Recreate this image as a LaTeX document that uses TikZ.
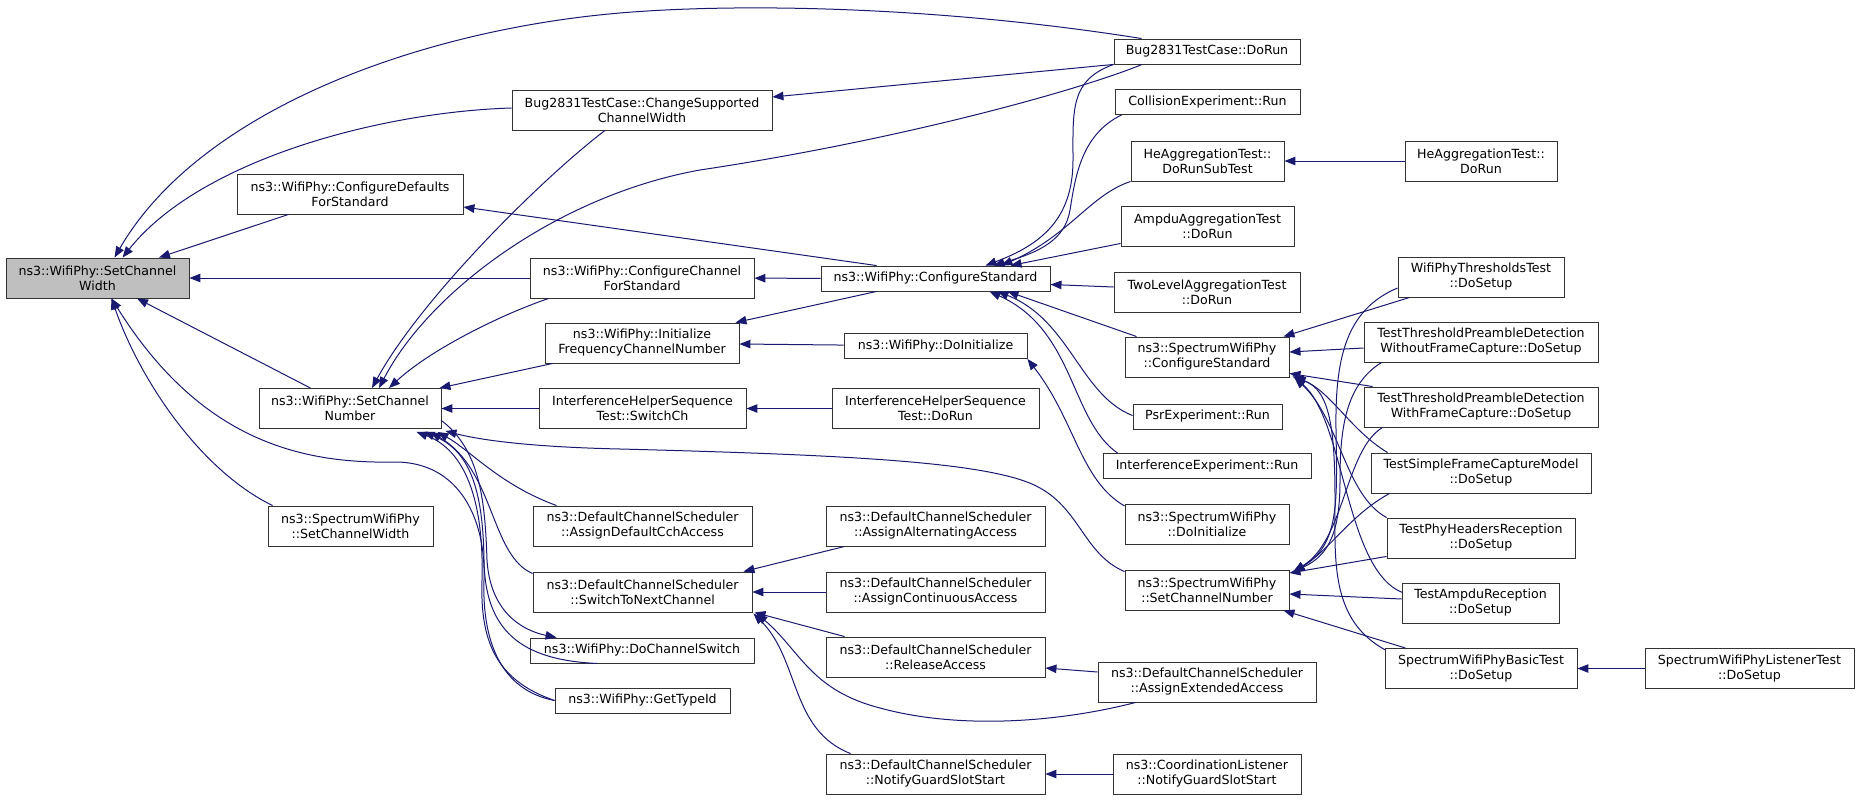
\documentclass[tikz,border=0pt]{standalone}
\usepackage{fontspec}
\setmainfont{DejaVu Sans}
\usetikzlibrary{arrows.meta, calc}
\definecolor{navyedge}{HTML}{191970}
\definecolor{nodegray}{HTML}{BFBFBF}

\begin{document}
\begin{tikzpicture}[
  x=1pt, y=-1pt,
  fn/.style = {draw=black!80, line width=0.9pt, fill=white, align=center, inner sep=0pt,
               minimum height=40pt, font=\fontsize{12.6}{15}\selectfont},
  fn1/.style = {fn, minimum height=25pt},
  call/.style = {draw=navyedge, line width=1pt, -{Triangle[length=11pt, width=8.5pt]}}
]
\useasboundingbox (0,0) rectangle (1867,800);

% Node for the called function
\node[fn, fill=nodegray, minimum width=183pt] (scw) at (97.5,278) {ns3::WifiPhy::SetChannel\\Width};

% Nodes for the direct callers
\node[fn, minimum width=226pt] (cdfs) at (350,194) {ns3::WifiPhy::ConfigureDefaults\\ForStandard};
\node[fn, minimum width=182pt] (scn) at (350,408.5) {ns3::WifiPhy::SetChannel\\Number};
\node[fn, minimum width=165pt] (sswidth) at (350.5,526) {ns3::SpectrumWifiPhy\\::SetChannelWidth};

% Nodes for the second column
\node[fn, minimum width=260pt] (chsup) at (642,110) {Bug2831TestCase::ChangeSupported\\ChannelWidth};
\node[fn, minimum width=224pt] (ccfs) at (642,278) {ns3::WifiPhy::ConfigureChannel\\ForStandard};
\node[fn, minimum width=194pt] (ifcn) at (642,343) {ns3::WifiPhy::Initialize\\FrequencyChannelNumber};
\node[fn, minimum width=207pt] (swch) at (642.5,408.5) {InterferenceHelperSequence\\Test::SwitchCh};
\node[fn, minimum width=219pt] (adcca) at (642.5,526) {ns3::DefaultChannelScheduler\\::AssignDefaultCchAccess};
\node[fn, minimum width=219pt] (stnc) at (642.5,592) {ns3::DefaultChannelScheduler\\::SwitchToNextChannel};
\node[fn1, minimum width=224pt] (dcs) at (642,650.5) {ns3::WifiPhy::DoChannelSwitch};
\node[fn1, minimum width=175pt] (gti) at (642.5,700.5) {ns3::WifiPhy::GetTypeId};

% Nodes for the third column
\node[fn1, minimum width=229pt] (cs) at (935.5,278.5) {ns3::WifiPhy::ConfigureStandard};
\node[fn1, minimum width=183pt] (doinit) at (935.5,346) {ns3::WifiPhy::DoInitialize};
\node[fn, minimum width=207pt] (ihdorun) at (935.5,408.5) {InterferenceHelperSequence\\Test::DoRun};
\node[fn, minimum width=219pt] (aaa) at (935.5,526) {ns3::DefaultChannelScheduler\\::AssignAlternatingAccess};
\node[fn, minimum width=219pt] (aca) at (935.5,592) {ns3::DefaultChannelScheduler\\::AssignContinuousAccess};
\node[fn, minimum width=219pt] (ra) at (935.5,657) {ns3::DefaultChannelScheduler\\::ReleaseAccess};
\node[fn, minimum width=219pt] (ngss) at (935.5,774) {ns3::DefaultChannelScheduler\\::NotifyGuardSlotStart};

% Nodes for the fourth column
\node[fn1, minimum width=186pt] (dorun) at (1207,51.5) {Bug2831TestCase::DoRun};
\node[fn1, minimum width=185pt] (coll) at (1207.5,102) {CollisionExperiment::Run};
\node[fn, minimum width=153pt] (hesub) at (1207.5,161) {HeAggregationTest::\\DoRunSubTest};
\node[fn, minimum width=173pt] (ampagg) at (1207.5,226) {AmpduAggregationTest\\::DoRun};
\node[fn, minimum width=186pt] (twolev) at (1207,292) {TwoLevelAggregationTest\\::DoRun};
\node[fn, minimum width=164pt] (scs) at (1207,357) {ns3::SpectrumWifiPhy\\::ConfigureStandard};
\node[fn1, minimum width=149pt] (psr) at (1207.5,416.5) {PsrExperiment::Run};
\node[fn1, minimum width=208pt] (ie) at (1207,466) {InterferenceExperiment::Run};
\node[fn, minimum width=164pt] (ssdoinit) at (1207,524.5) {ns3::SpectrumWifiPhy\\::DoInitialize};
\node[fn, minimum width=164pt] (sscn) at (1207,590) {ns3::SpectrumWifiPhy\\::SetChannelNumber};
\node[fn, minimum width=218pt] (aea) at (1207,682) {ns3::DefaultChannelScheduler\\::AssignExtendedAccess};
\node[fn, minimum width=188pt] (cl) at (1207,774) {ns3::CoordinationListener\\::NotifyGuardSlotStart};

% Nodes for the test setups
\node[fn, minimum width=152pt] (hedorun) at (1481,161) {HeAggregationTest::\\DoRun};
\node[fn, minimum width=166pt] (wpt) at (1481,277) {WifiPhyThresholdsTest\\::DoSetup};
\node[fn, minimum width=234pt] (ttwo) at (1481,342) {TestThresholdPreambleDetection\\WithoutFrameCapture::DoSetup};
\node[fn, minimum width=234pt] (ttw) at (1481,407) {TestThresholdPreambleDetection\\WithFrameCapture::DoSetup};
\node[fn, minimum width=220pt] (tsfc) at (1481,473) {TestSimpleFrameCaptureModel\\::DoSetup};
\node[fn, minimum width=188pt] (tphr) at (1481,538) {TestPhyHeadersReception\\::DoSetup};
\node[fn, minimum width=157pt] (tamp) at (1480.5,603) {TestAmpduReception\\::DoSetup};
\node[fn, minimum width=192pt] (swbt) at (1481,668.5) {SpectrumWifiPhyBasicTest\\::DoSetup};
\node[fn, minimum width=209pt] (swlt) at (1749.5,668.5) {SpectrumWifiPhyListenerTest\\::DoSetup};

% Arrows into SetChannelWidth
\draw[call] ($(dorun.north west)+(28,0)$) .. controls (950,8) and (750,2) .. (620,13)
  .. controls (420,30) and (200,110) .. ($(scw.north)+(17,0)$);
\draw[call] ($(chsup.west)+(0,-2)$) .. controls (380,112) and (200,160) .. ($(scw.north)+(25,0)$);
\draw[call] (cdfs) -- (scw);
\draw[call] (ccfs) -- (scw);
\draw[call] (scn) -- (scw);
\draw[call] ($(sswidth.north west)+(5,0)$) .. controls (200,470) and (140,380) .. ($(scw.south)+(14,0)$);
\draw[call] (gti.west) .. controls (500,690) and (482,640) .. (484,580)
  .. controls (486,520) and (460,462) .. (395,462)
  .. controls (300,464) and (200,440) .. ($(scw.south)+(14,0)$);

% Arrows into ConfigureDefaults, ChangeSupported, ConfigureChannel
\draw[call] ($(cs.north west)+(56,0)$) -- ($(cdfs.east)+(0,13)$);
\draw[call] (dorun.south west) -- ($(chsup.east)+(0,-13)$);
\draw[call] (cs) -- (ccfs);

% Arrows into SetChannelNumber
\draw[call] ($(chsup.south)+(-37,0)$) .. controls (540,180) and (420,300) .. ($(scn.north)+(22,0)$);
\draw[call] ($(dorun.south)+(-65,0)$) .. controls (1080,90) and (900,140) .. (700,170)
  .. controls (560,195) and (430,290) .. ($(scn.north)+(29,0)$);
\draw[call] ($(ccfs.south west)+(19,0)$) .. controls (500,315) and (430,350) .. ($(scn.north)+(39,0)$);
\draw[call] ($(ifcn.south west)+(8,0)$) -- ($(scn.north east)+(-2,0)$);
\draw[call] (swch) -- (scn);
\draw[call] ($(sscn.north west)+(0,2)$) .. controls (1085,555) and (1080,510) .. (1040,488)
  .. controls (995,462) and (850,455) .. (620,449)
  .. controls (530,447) and (480,440) .. ($(scn.south east)+(4,2)$);
\draw[call] ($(adcca.north west)+(24,0)$) .. controls (500,485) and (470,450) .. ($(scn.south east)+(-4,3)$);
\draw[call] ($(stnc.north west)+(0,2)$) .. controls (490,555) and (495,470) .. ($(scn.south east)+(-11,3)$);
\draw[call] ($(dcs.south)+(-45,0)$) .. controls (520,660) and (485,630) .. (484,560)
  .. controls (483,490) and (470,450) .. ($(scn.south east)+(-18,3)$);
\draw[call] (gti.west) .. controls (495,680) and (480,640) .. (482,580)
  .. controls (484,500) and (465,450) .. ($(scn.south east)+(-25,3)$);
\draw[call] ($(scn.east)+(0,12)$) .. controls (480,450) and (485,500) .. (487,560)
  .. controls (490,610) and (520,630) .. ($(dcs.north west)+(27,0)$);

% Arrows into InitializeFrequencyChannelNumber and SwitchCh
\draw[call] ($(cs.south west)+(56,0)$) -- ($(ifcn.north east)+(-4,0)$);
\draw[call] (doinit) -- (ifcn);
\draw[call] (ihdorun) -- (swch);

% Arrows into SwitchToNextChannel
\draw[call] ($(aaa.south west)+(19,0)$) -- ($(stnc.north east)+(-9,0)$);
\draw[call] (aca) -- (stnc);
\draw[call] ($(ra.north west)+(19,0)$) -- ($(stnc.south east)+(2,0)$);
\draw[call] ($(aea.south west)+(38,0)$) .. controls (1060,722) and (960,730) .. (880,708)
  .. controls (810,690) and (800,650) .. ($(stnc.south east)+(4,1)$);
\draw[call] ($(ngss.north west)+(25,0)$) .. controls (790,730) and (800,660) .. ($(stnc.south east)+(1,1)$);
\draw[call] ($(aea.west)+(0,-10)$) -- ($(ra.east)+(0,11)$);
\draw[call] (cl) -- (ngss);

% Arrows into ConfigureStandard
\draw[call] (dorun.south west) .. controls (1070,80) and (1073,110) .. (1073,160)
  .. controls (1073,220) and (1040,245) .. ($(cs.north)+(50,0)$);
\draw[call] ($(coll.south west)+(7,0)$) .. controls (1080,135) and (1075,180) .. (1070,210)
  .. controls (1065,240) and (1040,252) .. ($(cs.north)+(58,0)$);
\draw[call] (hesub.south west) .. controls (1090,195) and (1070,235) .. ($(cs.north)+(66,0)$);
\draw[call] ($(ampagg.south west)+(0,-3)$) -- ($(cs.north)+(75,0)$);
\draw[call] ($(twolev.west)+(0,-5)$) -- ($(cs.east)+(0,6)$);
\draw[call] ($(scs.north west)+(12,0)$) -- ($(cs.south)+(72,0)$);
\draw[call] ($(psr.north west)+(0,12)$) .. controls (1080,395) and (1070,320) .. ($(cs.south)+(62,0)$);
\draw[call] ($(ie.north west)+(15,0)$) .. controls (1070,420) and (1075,330) .. ($(cs.south)+(54,0)$);
\draw[call] ($(ssdoinit.north west)+(0,2)$) .. controls (1080,480) and (1075,420) .. (doinit.south east);

% Arrows into SpectrumWifiPhy::ConfigureStandard
\draw[call] ($(wpt.south west)+(12,0)$) -- ($(scs.north east)+(-6,0)$);
\draw[call] ($(ttwo.west)+(0,6)$) -- ($(scs.east)+(0,-5)$);
\draw[call] ($(ttw.north west)+(9,0)$) -- ($(scs.south east)+(0,-4)$);
\draw[call] ($(tsfc.north west)+(17,0)$) .. controls (1350,430) and (1330,390) .. ($(scs.south east)+(3,-1)$);
\draw[call] (tphr.north west) .. controls (1345,495) and (1340,420) .. ($(scs.south east)+(5,0)$);
\draw[call] ($(tamp.north west)+(1,10)$) .. controls (1345,570) and (1345,420) .. ($(scs.south east)+(5,0)$);
\draw[call] ($(swbt.north west)+(1,2)$) .. controls (1330,620) and (1335,560) .. (1335,500)
  .. controls (1335,430) and (1330,390) .. ($(scs.south east)+(5,0)$);

% Arrows into SpectrumWifiPhy::SetChannelNumber
\draw[call] ($(wpt.west)+(0,11)$) .. controls (1345,310) and (1335,360) .. (1336,430)
  .. controls (1337,500) and (1340,545) .. ($(sscn.north east)+(4,2)$);
\draw[call] ($(ttwo.south west)+(18,0)$) .. controls (1345,385) and (1340,430) .. (1340,480)
  .. controls (1340,530) and (1330,555) .. ($(sscn.north east)+(4,2)$);
\draw[call] ($(ttw.south west)+(19,0)$) .. controls (1345,450) and (1345,540) .. ($(sscn.north east)+(4,2)$);
\draw[call] ($(tsfc.south west)+(19,0)$) .. controls (1350,515) and (1330,550) .. ($(sscn.north east)+(4,2)$);
\draw[call] ($(tphr.south west)+(0,-2)$) -- ($(sscn.east)+(0,-17)$);
\draw[call] ($(tamp.west)+(0,-4)$) -- ($(sscn.east)+(0,4)$);
\draw[call] ($(swbt.north west)+(21,0)$) -- ($(sscn.south east)+(-6,0)$);

% Arrows into the remaining tests
\draw[call] (swlt) -- (swbt);
\draw[call] (hedorun) -- (hesub);
\end{tikzpicture}
\end{document}
